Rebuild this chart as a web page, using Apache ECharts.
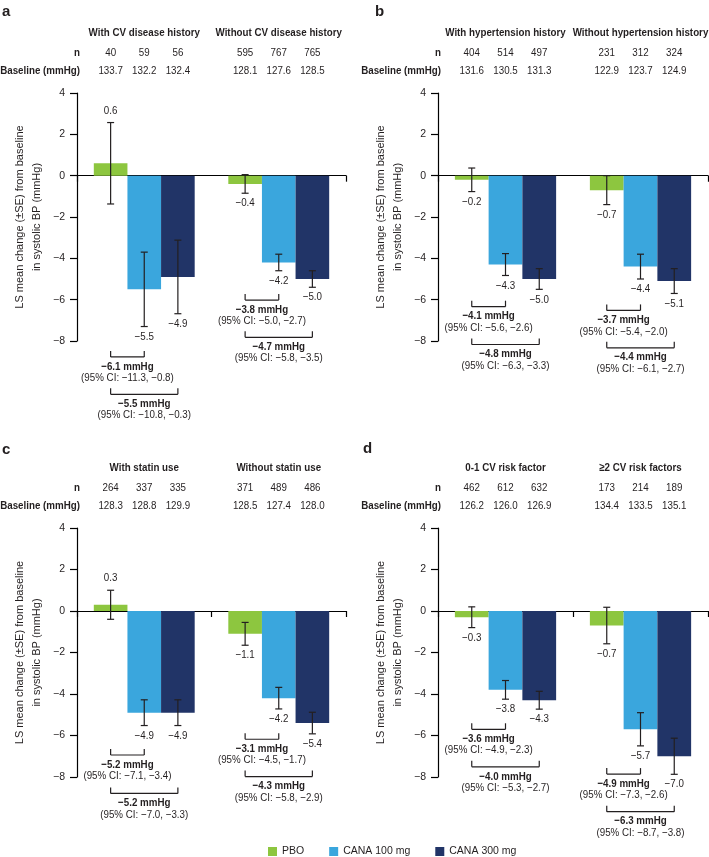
<!DOCTYPE html>
<html>
<head>
<meta charset="utf-8">
<title>LS mean change in systolic BP by subgroup</title>
<script src="https://cdn.jsdelivr.net/npm/echarts@6/dist/echarts.min.js"></script>
<style>
  * { margin: 0; padding: 0; }
  body { background: #fff; }
  #main { width: 709px; height: 857px; }
</style>
</head>
<body>
<div id="main"></div>
<script>
// ---- data ----
var panelLetters = ['a', 'b', 'c', 'd'];
var seriesNames = ['PBO', 'CANA 100 mg', 'CANA 300 mg'];
var groupHeadings = [
  ['With CV disease history', 'Without CV disease history'],
  ['With hypertension history', 'Without hypertension history'],
  ['With statin use', 'Without statin use'],
  ['0-1 CV risk factor', '\u22652 CV risk factors']
];
var nCounts = [
  [[40, 59, 56], [595, 767, 765]],
  [[404, 514, 497], [231, 312, 324]],
  [[264, 337, 335], [371, 489, 486]],
  [[462, 612, 632], [173, 214, 189]]
];
var baselines = [
  [[133.7, 132.2, 132.4], [128.1, 127.6, 128.5]],
  [[131.6, 130.5, 131.3], [122.9, 123.7, 124.9]],
  [[128.3, 128.8, 129.9], [128.5, 127.4, 128.0]],
  [[126.2, 126.0, 126.9], [134.4, 133.5, 135.1]]
];
var pboMeans     = [[0.6, -0.4], [-0.2, -0.7], [0.3, -1.1], [-0.3, -0.7]];
var cana100Means = [[-5.5, -4.2], [-4.3, -4.4], [-4.9, -4.2], [-3.8, -5.7]];
var cana300Means = [[-4.9, -5.0], [-5.0, -5.1], [-4.9, -5.4], [-4.3, -7.0]];
var pboSE     = [[1.97, 0.45], [0.57, 0.7], [0.7, 0.55], [0.5, 0.88]];
var cana100SE = [[1.8, 0.4], [0.53, 0.6], [0.62, 0.52], [0.45, 0.8]];
var cana300SE = [[1.78, 0.4], [0.5, 0.6], [0.62, 0.52], [0.43, 0.87]];
// differences vs placebo, with 95% CI
var diff100 = [[-6.1, -3.8], [-4.1, -3.7], [-5.2, -3.1], [-3.6, -4.9]];
var ci100 = [
  [[-11.3, -0.8], [-5.0, -2.7]],
  [[-5.6, -2.6], [-5.4, -2.0]],
  [[-7.1, -3.4], [-4.5, -1.7]],
  [[-4.9, -2.3], [-7.3, -2.6]]
];
var diff300 = [[-5.5, -4.7], [-4.8, -4.4], [-5.2, -4.3], [-4.0, -6.3]];
var ci300 = [
  [[-10.8, -0.3], [-5.8, -3.5]],
  [[-6.3, -3.3], [-6.1, -2.7]],
  [[-7.0, -3.3], [-5.8, -2.9]],
  [[-5.3, -2.7], [-8.7, -3.8]]
];
// y level (in axis units) where each comparison bracket sits
var bracket100Level = [[-8.77, -6.02], [-6.34, -6.52], [-6.94, -6.18], [-5.70, -7.86]];
var bracket300Level = [[-10.58, -7.82], [-8.17, -8.33], [-8.79, -7.98], [-7.51, -9.67]];
var yTicks = { min: -8, max: 4, step: 2 };

// ---- styling ----
var FONT = "'Liberation Sans', Arial, sans-serif";
var INK = '#231f20';
var colors = ['#8dc63f', '#3aa6dd', '#213467'];
var grids = [
  { left: 77, top: 93, width: 269, height: 248 },
  { left: 438, top: 93, width: 270, height: 248 },
  { left: 77, top: 528, width: 269, height: 249 },
  { left: 438, top: 528, width: 270, height: 249 }
];
var letterPos = [[2, 4], [375, 4], [2, 442], [363, 441]];

function fmt(v) {
  var s = Math.abs(v).toFixed(1);
  return v < 0 ? '\u2212' + s : s;
}
function barX(api, cat, b) {
  var bw = api.size([1, 0])[0];
  return api.coord([cat, 0])[0] + (b - 1) * bw * 0.25;
}
function ln(x1, y1, x2, y2) {
  return { type: 'line', shape: { x1: x1, y1: y1, x2: x2, y2: y2 },
    style: { stroke: INK, lineWidth: 1.2 } };
}
// narrowed text to mimic the condensed face of the original
function txt(s, x, y, align, bold) {
  return { type: 'text', x: x, y: y, scaleX: 0.85,
    style: { text: s, x: 0, y: 0, align: align, verticalAlign: 'middle',
      font: (bold ? 'bold ' : '') + '11.5px ' + FONT, fill: INK } };
}

function renderErr(params, api) {
  var cat = api.value(0), b = api.value(1), mean = api.value(2), se = api.value(3);
  var x = barX(api, cat, b);
  var top = api.coord([cat, mean + se])[1];
  var bot = api.coord([cat, mean - se])[1];
  var cap = 3.5;
  var ly = mean > 0 ? top - 12 : bot + 10;
  return { type: 'group', children: [
    ln(x, top, x, bot),
    ln(x - cap, top, x + cap, top),
    ln(x - cap, bot, x + cap, bot),
    txt(fmt(mean), x, ly, 'center', false)
  ] };
}

function makeBracketRender(p) {
  return function (params, api) {
    var cat = api.value(0), lvl = api.value(1), k = api.value(2);
    var x1 = barX(api, cat, 0);
    var x2 = barX(api, cat, k === 0 ? 1 : 2);
    var y = api.coord([cat, lvl])[1];
    var mid = (x1 + x2) / 2;
    var d = k === 0 ? diff100[p][cat] : diff300[p][cat];
    var ci = k === 0 ? ci100[p][cat] : ci300[p][cat];
    return { type: 'group', children: [
      ln(x1, y, x2, y),
      ln(x1, y, x1, y - 6),
      ln(x2, y, x2, y - 6),
      txt(fmt(d) + ' mmHg', mid, y + 9.5, 'center', true),
      txt('(95% CI: ' + fmt(ci[0]) + ', ' + fmt(ci[1]) + ')', mid, y + 21, 'center', false)
    ] };
  };
}

function makeHeaderRender(p) {
  return function (params, api) {
    var cat = api.value(0);
    var top = params.coordSys.y;
    var cx = api.coord([cat, 0])[0];
    var kids = [txt(groupHeadings[p][cat], cx, top - 60, 'center', true)];
    for (var b = 0; b < 3; b++) {
      var x = barX(api, cat, b);
      kids.push(txt(String(nCounts[p][cat][b]), x, top - 40, 'center', false));
      kids.push(txt(baselines[p][cat][b].toFixed(1), x, top - 22, 'center', false));
    }
    if (cat === 0) {
      var lx = params.coordSys.x + 3;
      kids.push(txt('n', lx, top - 40, 'right', true));
      kids.push(txt('Baseline (mmHg)', lx, top - 22, 'right', true));
    }
    return { type: 'group', children: kids };
  };
}

var option = {
  animation: false,
  backgroundColor: '#fff',
  grid: [],
  xAxis: [],
  yAxis: [],
  series: [],
  legend: {
    data: seriesNames,
    left: 263, top: 841,
    icon: 'rect', itemWidth: 9, itemHeight: 9, itemGap: 25,
    textStyle: { fontFamily: FONT, fontSize: 10.5, color: INK }
  },
  graphic: []
};

var meansAll = [pboMeans, cana100Means, cana300Means];
var seAll = [pboSE, cana100SE, cana300SE];

for (var p = 0; p < 4; p++) {
  var gr = grids[p];
  option.grid.push({ left: gr.left, top: gr.top, width: gr.width, height: gr.height,
    containLabel: false, outerBoundsMode: 'none' });
  option.xAxis.push({
    type: 'category', gridIndex: p, data: groupHeadings[p],
    axisLine: { onZero: true, lineStyle: { color: '#000', width: 1.2 } },
    axisTick: { show: true, length: 6, lineStyle: { color: '#000', width: 1.2 } },
    axisLabel: { show: false },
    splitLine: { show: false }
  });
  option.yAxis.push({
    type: 'value', gridIndex: p, min: yTicks.min, max: yTicks.max, interval: yTicks.step,
    name: 'LS mean change (\u00b1SE) from baseline\nin systolic BP (mmHg)',
    nameLocation: 'middle', nameGap: 32, nameRotate: 90,
    nameTextStyle: { fontFamily: FONT, fontSize: 11, lineHeight: 17, color: INK },
    axisLine: { show: true, lineStyle: { color: '#000', width: 1.2 } },
    axisTick: { show: true, length: 7, lineStyle: { color: '#000', width: 1.2 } },
    axisLabel: { fontFamily: FONT, fontSize: 10.5, color: INK, margin: 12,
      formatter: function (v) { return v < 0 ? '\u2212' + Math.abs(v) : String(v); } },
    splitLine: { show: false }
  });
  for (var s = 0; s < 3; s++) {
    option.series.push({
      type: 'bar', name: seriesNames[s], xAxisIndex: p, yAxisIndex: p,
      data: meansAll[s][p], barGap: '0%', barCategoryGap: '25%',
      itemStyle: { color: colors[s] }, z: 2
    });
  }
  var errData = [];
  for (var g = 0; g < 2; g++) {
    for (var b = 0; b < 3; b++) errData.push([g, b, meansAll[b][p][g], seAll[b][p][g]]);
  }
  option.series.push({
    type: 'custom', xAxisIndex: p, yAxisIndex: p, clip: false, z: 5,
    renderItem: renderErr, data: errData, encode: { x: 0, y: 2 }
  });
  option.series.push({
    type: 'custom', xAxisIndex: p, yAxisIndex: p, clip: false, z: 5,
    renderItem: makeBracketRender(p),
    data: [[0, bracket100Level[p][0], 0], [0, bracket300Level[p][0], 1],
           [1, bracket100Level[p][1], 0], [1, bracket300Level[p][1], 1]],
    encode: { x: 0, y: 1 }
  });
  option.series.push({
    type: 'custom', xAxisIndex: p, yAxisIndex: p, clip: false, z: 5,
    renderItem: makeHeaderRender(p), data: [[0, 4], [1, 4]], encode: { x: 0, y: 1 }
  });
  option.graphic.push({
    type: 'text', left: letterPos[p][0], top: letterPos[p][1],
    style: { text: panelLetters[p], font: 'bold 15px ' + FONT, fill: INK }
  });
}

var chart = echarts.init(document.getElementById('main'), null, { renderer: 'canvas' });
chart.setOption(option);
</script>
</body>
</html>
